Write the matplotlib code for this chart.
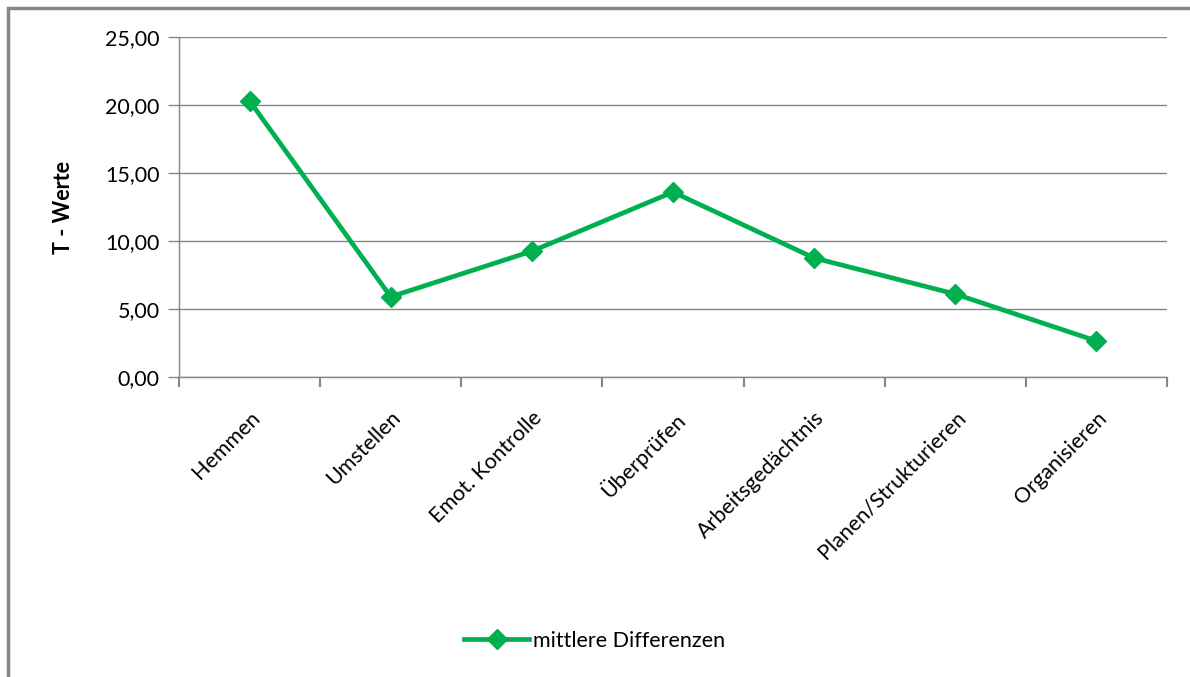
import numpy as np
import matplotlib.pyplot as plt
from matplotlib.patches import Rectangle

plt.rcParams['font.family'] = ['Lato', 'DejaVu Sans']

categories = ["Hemmen", "Umstellen", "Emot. Kontrolle", "Überprüfen",
              "Arbeitsgedächtnis", "Planen/Strukturieren", "Organisieren"]
values = [20.3, 5.9, 9.25, 13.6, 8.75, 6.1, 2.65]
series_name = "mittlere Differenzen"
y_ticks = [0, 5, 10, 15, 20, 25]

green = "#00B050"
grey = "#868686"

fig = plt.figure(figsize=(11.9, 6.77), dpi=100)
ax = fig.add_axes([179/1190, 1 - 377/677, (1167 - 179)/1190, (377 - 37)/677])

x = np.arange(len(categories))
ax.plot(x, values, color=green, lw=3.4, marker="D", markersize=10,
        markeredgecolor=green, label=series_name)

ax.set_xlim(-0.5, len(categories) - 0.5)
ax.set_ylim(0, 25)
ax.set_yticks(y_ticks)
ax.set_yticklabels([f"{v:.2f}".replace(".", ",") for v in y_ticks], fontsize=15.5)
ax.yaxis.grid(True, color=grey, lw=1)
ax.set_axisbelow(True)

ax.set_xticks(x)
ax.set_xticklabels(categories, rotation=45, ha="right", rotation_mode="anchor",
                   fontsize=15.5)
ax.tick_params(axis="x", length=0, pad=22)
# category boundary ticks
ax.set_xticks(np.arange(len(categories) + 1) - 0.5, minor=True)
ax.tick_params(axis="x", which="minor", length=7, color=grey, width=1.5, direction="out")
ax.tick_params(axis="y", length=8, color=grey, width=1, pad=6)

for s in ["top", "right"]:
    ax.spines[s].set_visible(False)
for s in ["left", "bottom"]:
    ax.spines[s].set_color(grey)
    ax.spines[s].set_linewidth(1)

ax.set_ylabel("T - Werte", fontsize=15.5, fontweight="bold", labelpad=22)

ax.legend(loc="center", bbox_to_anchor=(0.5, 1 - 641/677), bbox_transform=fig.transFigure,
          frameon=False, fontsize=15.5, handlelength=3, handletextpad=0.2)

# outer chart border
fig.patches.append(Rectangle((8/1190, -0.05), 1.2, 1 - 8/677 + 0.05, transform=fig.transFigure,
                             fill=False, edgecolor=grey, lw=2.5))

fig.savefig("out.png", dpi=100)
